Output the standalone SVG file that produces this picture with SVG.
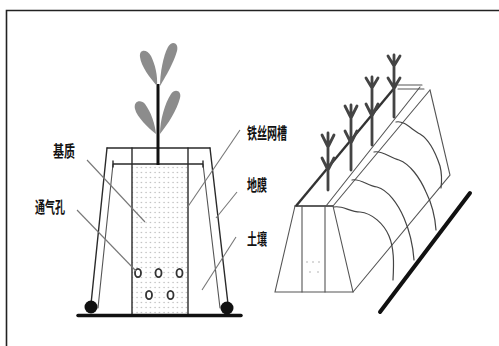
<svg xmlns="http://www.w3.org/2000/svg" width="499" height="346" viewBox="0 0 499 346">
  <defs>
    <pattern id="grain" width="4.5" height="5" patternUnits="userSpaceOnUse">
      <circle cx="2" cy="2.5" r="0.7" fill="#b5b5b5"/>
    </pattern>
  </defs>
  <style>
    .frame { fill: none; stroke: #222; stroke-width: 1.6; }
    .ln { fill: none; stroke: #2a2a2a; stroke-width: 1.4; stroke-linecap: round; }
    .thin { fill: none; stroke: #555; stroke-width: 1.1; stroke-linecap: round; }
    .lead { fill: none; stroke: #777; stroke-width: 1.1; }
    .thick { fill: none; stroke: #111; stroke-width: 3.5; stroke-linecap: round; }
    .leaf { fill: #8c8c8c; }
    .hole { fill: #fff; stroke: #333; stroke-width: 1.8; }
    .sprout { fill: none; stroke: #444; stroke-width: 2.8; stroke-linecap: round; stroke-linejoin: round; }
    .hoop { fill: none; stroke: #444; stroke-width: 1.2; stroke-linecap: round; }
    .lbl { font-family: "Noto Sans CJK SC", "Noto Sans", sans-serif; font-size: 16px; font-weight: 700; fill: #111; }
  </style>

  <!-- frame -->
  <path class="frame" d="M6.5,346 V10.5 H499"/>

  <!-- cross-section of the trough -->
  <g id="section">
    <rect x="132" y="165" width="56" height="149" fill="url(#grain)"/>
    <!-- outer film / frame -->
    <path class="ln" d="M107,148 H210"/>
    <path class="ln" d="M107,148 L91,304"/>
    <path class="ln" d="M210,148 L228,304"/>
    <path class="thin" d="M113,164 L98,308"/>
    <path class="thin" d="M203,164 L220,308"/>
    <path class="ln" d="M113,164 H203 M113,161 V167 M203,161 V167"/>
    <!-- wire mesh trough walls -->
    <path class="ln" d="M132,148 V315 M188,148 V315"/>
    <!-- ground -->
    <path class="thick" d="M78,315.5 H241"/>
    <circle cx="91" cy="307" r="6.5" fill="#111"/>
    <circle cx="227" cy="308" r="6.5" fill="#111"/>
    <!-- ventilation holes -->
    <ellipse class="hole" cx="138" cy="273" rx="3" ry="4.2"/>
    <ellipse class="hole" cx="158.5" cy="273" rx="3" ry="4.2"/>
    <ellipse class="hole" cx="179.5" cy="273" rx="3" ry="4.2"/>
    <ellipse class="hole" cx="149" cy="295" rx="3" ry="4.2"/>
    <ellipse class="hole" cx="170.5" cy="295" rx="3" ry="4.2"/>
  </g>

  <g id="plant">
    <path d="M158,84 V165" stroke="#111" stroke-width="3" fill="none"/>
    <!-- leaves: rounded tip, pointed base -->
    <path class="leaf" d="M157,86 C150,78 141,66 140,57 C139,49 147,49 151,56 C155,64 158,76 157,86 Z"/>
    <path class="leaf" d="M160,86 C160,74 163,56 168,47 C172,40 179,43 177,51 C174,62 166,76 160,86 Z"/>
    <path class="leaf" d="M156,134 C148,128 137,117 135,109 C133,101 141,99 145,104 C151,112 155,124 156,134 Z"/>
    <path class="leaf" d="M160,134 C160,120 165,103 171,94 C175,88 182,91 180,98 C177,110 168,124 160,134 Z"/>
  </g>

  <!-- leader lines -->
  <g id="leaders">
    <path class="lead" d="M87,160 L145,222"/>
    <path class="lead" d="M77,210 L136,271"/>
    <path class="lead" d="M240,130 L187,208"/>
    <path class="lead" d="M237,192 L216,218"/>
    <path class="lead" d="M236,237 L202,290"/>
  </g>

  <g id="labels">
    <text class="lbl" x="53" y="157" textLength="22" lengthAdjust="spacingAndGlyphs">基质</text>
    <text class="lbl" x="35" y="213" textLength="30" lengthAdjust="spacingAndGlyphs">通气孔</text>
    <text class="lbl" x="247" y="139" textLength="40" lengthAdjust="spacingAndGlyphs">铁丝网槽</text>
    <text class="lbl" x="247" y="191" textLength="20" lengthAdjust="spacingAndGlyphs">地膜</text>
    <text class="lbl" x="247" y="245" textLength="20" lengthAdjust="spacingAndGlyphs">土壤</text>
  </g>

  <!-- perspective view of the trough -->
  <g id="trough">
    <path class="ln" d="M295,206 H333"/>
    <path class="thin" d="M295,206 L275,292 H353 L333,206"/>
    <path class="thin" d="M302,206 V292 M325,206 V292" stroke="#999"/>
    <g fill="#aaa">
      <circle cx="307" cy="262" r="0.8"/><circle cx="313" cy="262" r="0.8"/><circle cx="319" cy="262" r="0.8"/>
      <circle cx="310" cy="272" r="0.8"/><circle cx="318" cy="272" r="0.8"/>
    </g>
    <path d="M296,206 L396,86" stroke="#333" stroke-width="2.4" fill="none"/>
    <path class="thin" d="M326,206 L420,87 M333,206 L430,90"/>
    <path class="thin" d="M396,85 H422 M398,89 H424"/>
    <path class="thin" d="M430,90 L450,175 L353,292"/>
  </g>

  <g id="hoops">
    <path class="hoop" d="M334,207 C342,205 350,212 360,212 C372,213 384,224 389,236 C394,248 394,262 393,280"/>
    <path class="hoop" d="M352,180 C360,178 368,186 377,187 C388,190 398,204 404,218 C410,232 413,246 414,260"/>
    <path class="hoop" d="M374,152 C382,150 390,158 399,160 C410,164 420,178 426,192 C432,204 435,216 436,230"/>
    <path class="hoop" d="M396,122 C404,120 412,130 420,134 C430,140 436,154 440,166 C442,174 442,180 441,188"/>
  </g>

  <g id="seedlings">
    <path class="sprout" d="M394,55 V117 M388,56 L394,66 L400,56 M388,78 L394,88 L400,78"/>
    <path class="sprout" d="M372,77 V145 M366,78 L372,88 L378,78 M366,104 L372,116 L378,104"/>
    <path class="sprout" d="M351,105 V170 M345,106 L351,118 L357,106 M345,131 L351,143 L357,131"/>
    <path class="sprout" d="M328,133 V190 M322,135 L328,147 L334,135 M322,158 L328,170 L334,158"/>
  </g>

  <!-- ground line beside the trough -->
  <path id="ground" d="M380,312 L470,193" stroke="#111" stroke-width="4" stroke-linecap="round" fill="none"/>
</svg>
